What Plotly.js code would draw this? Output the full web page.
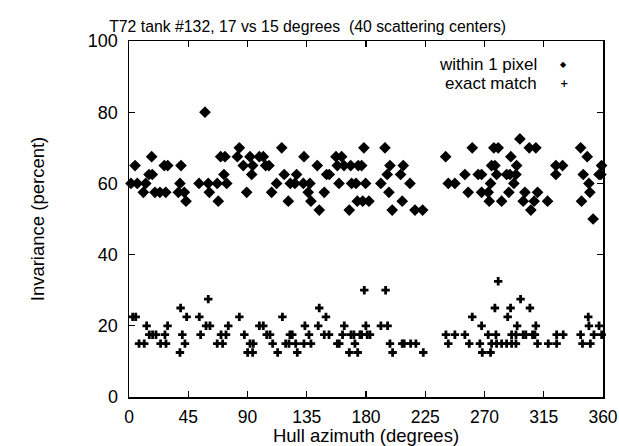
<!DOCTYPE html>
<html><head><meta charset="utf-8">
<script src="https://cdn.plot.ly/plotly-3.0.1.min.js"></script>
<style>html,body{margin:0;padding:0;background:#fff}</style>
</head><body>
<div id="chart" style="width:619px;height:446px"></div>
<script>
const chartTitle = "T72 tank #132, 17 vs 15 degrees  (40 scattering centers)";
const seriesNames = ["within 1 pixel", "exact match"];
const xTicks = [0, 45, 90, 135, 180, 225, 270, 315, 360];
const yTicks = [0, 20, 40, 60, 80, 100];

const withinX = [1.5,4.6,6.3,10.9,12.7,15.2,17.2,17.7,19.7,23.5,26.8,27.9,29.4,37.5,38.7,39.5,42,43.3,53.2,57.7,60.2,61,67,67.8,69.6,72.1,72.9,74.2,82.3,83.8,86.8,89.4,91.9,93.2,93.9,99,102,103.8,106.3,108.3,112.1,116,117.9,121,122.5,126,127.3,132.4,132.9,136.1,137.4,138.2,143,144.5,148.3,150.1,152.1,157.2,158.2,159.5,161.5,163.3,167.3,168.4,169.1,172.4,173.4,174.1,176.7,177.5,178.4,179.7,182.2,191.3,194.4,196.1,197.4,198.2,199.9,206.3,207.5,208.3,213.4,217.2,223,240.5,242.5,247.5,255.1,257.6,260.7,265.2,267.8,267.8,272.8,273.6,274.6,275.4,277.1,277.9,279.2,280.4,283,286.8,288.5,289.3,290,292.3,293.9,294.4,296.9,299.4,300.7,304,305.2,307.7,309,310.3,317.9,324.2,324.2,329.3,343,343.7,345,348,349.3,350,352.5,357,358.4,358.9];
const withinY = [60,65,60,57.5,60,62.5,67.5,62.5,57.5,57.5,65,57.5,65,57.5,60,65,57.5,55,60,80,60,57.5,60,55,67.5,62.5,67.5,60,67.5,70,65,57.5,67.5,62.5,65,67.5,67.5,65,65,57.5,60,70,62.5,55,60,60,62.5,60,67.5,57.5,60,55,65,52.5,57.5,62.5,62.5,67.5,65,60,67.5,65,52.5,65,60,60,55,65,65,55,70,60,55,60,70,62.5,57.5,65,52.5,62.5,55,65,60,52.5,52.5,67.5,60,60,62.5,57.5,70,62.5,62.5,57.5,57.5,55,60,65,70,65,62.5,70,55,62.5,57.5,62.5,67.5,60,62.5,65,72.5,55,57.5,70,52.5,55,70,57.5,55,65,62.5,65,70,55,62.5,67.5,60,57.5,50,62.5,62.5,65];

const exactX = [2.8,5.1,7.6,11.6,13.4,15.4,17.9,20.5,24,27.3,28.1,29.3,38.7,39.2,40.5,42.5,43.8,53.4,54.4,58.5,60.2,61.5,67,69.9,71.1,73.7,75.4,83.8,87.6,90.1,91.9,93.9,94.4,99,102,104.6,107.1,109.1,112.9,116.5,119,121.5,122.2,124,126.6,127.8,132.9,133.6,136.7,138.2,143.7,144.5,148.3,149.6,151.9,158.2,159.7,162.2,163.5,167.3,168.6,170.8,171.6,173.7,175.4,176.7,178.7,179.9,180.9,183,191.3,194.9,196.4,198.2,200.2,207.5,209,213.9,217.9,223.5,240.7,242.5,247.5,255.1,258.4,260.7,266.5,267.8,268.3,272.8,274.6,275.4,277.9,278.7,279.2,280.4,283,286.8,287.6,289.8,290.6,290.6,293.9,293.9,294.8,297.4,299.4,301.4,304.5,306.5,308.3,309,310.3,318.4,324.8,324.8,329.8,343,344.4,348.8,349.3,350.4,353.1,357,359];
const exactY = [22.5,22.5,15,15,20,17.5,17.5,17.5,15,17.5,15,20,12.5,25,17.5,15,22.5,22.5,17.5,20,27.5,20,15,17.5,15,17.5,20,22.5,17.5,12.5,15,12.5,15,20,20,17.5,17.5,15,12.5,22.5,15,15,17.5,17.5,15,12.5,15,20,17.5,15,20,25,17.5,22.5,17.5,15,15,17.5,20,12.5,17.5,17.5,15,12.5,17.5,17.5,30,20,17.5,17.5,20,30,20,15,12.5,15,15,15,15,12.5,17.5,15,17.5,17.5,15,22.5,15,20,12.5,17.5,12.5,15,25,17.5,15,32.5,15,15,22.5,25,17.5,15,17.5,15,20,27.5,17.5,17.5,25,17.5,17.5,20,15,15,15,17.5,17.5,17.5,15,22.5,20,15,17.5,20,17.5];

const F = "'Liberation Sans', Arial, Helvetica, sans-serif";
const traces = [
  {x: withinX, y: withinY, type: 'scatter', mode: 'markers', name: seriesNames[0],
   marker: {symbol: 'diamond', size: 9, color: '#000'}, cliponaxis: false},
  {x: exactX, y: exactY, type: 'scatter', mode: 'markers', name: seriesNames[1],
   marker: {symbol: 'cross', size: 7, color: '#000'}, cliponaxis: false}
];
const axisCommon = {showgrid: false, zeroline: false, showline: true, linecolor: '#000', linewidth: 1.5,
  mirror: 'allticks', ticks: 'inside', ticklen: 6, tickwidth: 1.2, tickcolor: '#000'};
const layout = {
  width: 619, height: 446,
  margin: {l: 129, r: 16, t: 41, b: 49},
  paper_bgcolor: '#fff', plot_bgcolor: '#fff',
  showlegend: false,
  font: {family: F, color: '#000'},
  title: {text: chartTitle, font: {family: F, size: 15.8, color: '#000'}, x: 0.497, xref: 'container', xanchor: 'center',
          y: 0.94, yref: 'container', yanchor: 'middle'},
  xaxis: Object.assign({}, axisCommon, {range: [0, 360], tickvals: xTicks, ticktext: xTicks.map(String),
    tickfont: {family: F, size: 17.5, color: '#000'}, ticklabelstandoff: 3,
    title: {text: 'Hull azimuth (degrees)', font: {family: F, size: 18.5, color: '#000'}, standoff: 0}}),
  yaxis: Object.assign({}, axisCommon, {range: [0, 100], tickvals: yTicks, ticktext: yTicks.map(String),
    tickfont: {family: F, size: 18, color: '#000'}, ticklabelstandoff: 6,
    title: {text: 'Invariance (percent)', font: {family: F, size: 18.5, color: '#000'}, standoff: 38}}),
  annotations: [
    {xref: 'paper', yref: 'paper', x: 0.865, y: 0.935, xanchor: 'right', yanchor: 'middle', showarrow: false,
     text: seriesNames[0], font: {family: F, size: 17, color: '#000'}},
    {xref: 'paper', yref: 'paper', x: 0.865, y: 0.88, xanchor: 'right', yanchor: 'middle', showarrow: false,
     text: seriesNames[1], font: {family: F, size: 17, color: '#000'}},
    {xref: 'paper', yref: 'paper', x: 0.9177, y: 0.935, xanchor: 'center', yanchor: 'middle', showarrow: false,
     text: '◆', font: {family: 'DejaVu Sans', size: 8, color: '#000'}},
    {xref: 'paper', yref: 'paper', x: 0.9177, y: 0.88, xanchor: 'center', yanchor: 'middle', showarrow: false,
     text: '<b>+</b>', font: {family: 'DejaVu Sans', size: 10, color: '#000'}}
  ]
};
Plotly.newPlot('chart', traces, layout, {displayModeBar: false, staticPlot: true});
</script>
</body></html>
